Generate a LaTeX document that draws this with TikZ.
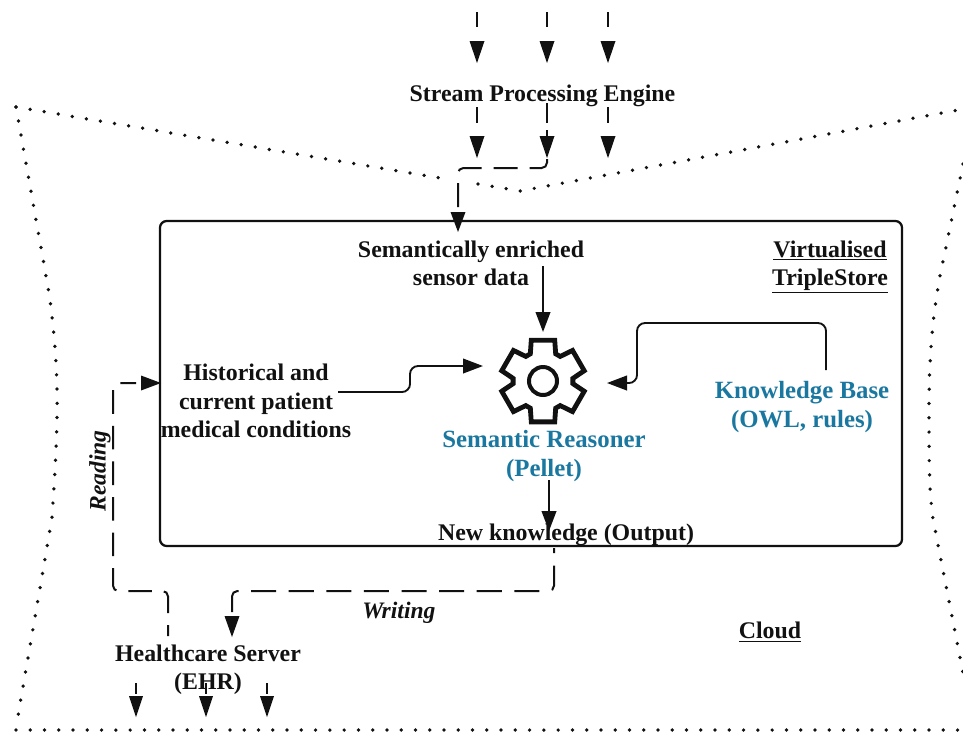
\documentclass[tikz,border=0pt]{standalone}
\usepackage{fontspec}
\setmainfont{Liberation Serif}
\usetikzlibrary{arrows.meta}
\definecolor{kbblue}{HTML}{1A78A0}
\definecolor{ink}{HTML}{111111}
\tikzset{
  lbl/.style={font=\fontsize{17.9}{21.2}\selectfont\bfseries,text=ink,align=center,inner sep=0pt},
  bluelbl/.style={lbl,text=kbblue,font=\fontsize{18.6}{22}\selectfont\bfseries},
  ital/.style={lbl,font=\fontsize{17.7}{21}\selectfont\bfseries\itshape},
  tipped/.style={-{Triangle[length=15pt,width=11pt]}},
  dashline/.style={ink,line width=1.5pt,dash pattern=on 18pt off 9pt,rounded corners=4pt},
  solidline/.style={ink,line width=1.4pt,rounded corners=6pt},
  dotsline/.style={ink,line width=2.8pt,line cap=round,dash pattern=on 0pt off 10.7pt},
  boxframe/.style={draw=ink,line width=1.7pt,rounded corners=5pt,inner sep=0pt,minimum width=556.5pt,minimum height=243.75pt},
}
\begin{document}
\begin{tikzpicture}[x=0.75pt,y=-0.75pt]
\useasboundingbox (0,0) rectangle (963,733);
% cloud
\draw[dotsline] (16,107) -- (452,180);
\draw[dotsline] (478,184) -- (520,191) -- (958,110);
\draw[dotsline] (16,107) -- (46,276) .. controls (55,325) and (58,380) .. (57,418) .. controls (56,465) and (53,500) .. (52,518) -- (18,716);
\draw[dotsline] (16,730) -- (963,730);
\draw[dotsline] (963,164) -- (940,276) .. controls (932,320) and (929,360) .. (929,410) .. controls (929,460) and (929,490) .. (933,519) -- (963,673);
% store
\node[boxframe] (store) at (531,383.5) {};
\node[lbl] (spe) at (542.5,96) {Stream Processing Engine};
\node[lbl] (sem) at (471,263.5) {Semantically enriched\\sensor data};
\node[lbl] (hist) at (256,401) {Historical and\\current patient\\medical conditions};
\node[bluelbl] (kb) at (802,407) {Knowledge Base\\(OWL, rules)};
\node[bluelbl] (sr) at (544,456) {Semantic Reasoner\\(Pellet)};
\node[lbl] (nk) at (566,535) {New knowledge (Output)};
\node[lbl] (hs) at (208,670) {Healthcare Server\\(EHR)};
\node[lbl] (vt) at (830,267) {\underline{Virtualised}\\\underline{TripleStore}};
\node[lbl] (cl) at (770,632) {\underline{Cloud}};
\node[ital] (wr) at (399,613) {Writing};
\node[ital,rotate=90] (rd) at (100,471) {Reading};
% gear
\coordinate (gear) at (543,381);
\draw[ink,line width=3.6pt,line join=miter,shift={(gear)}]
  (106:42.5)
  \foreach \a in {90,30,-30,-90,-150,-210} {
    -- ({\a+16}:42.5) -- ({\a-16}:42.5) -- ({\a-25}:30) -- ({\a-35}:30)
  } -- cycle;
\draw[ink,line width=3pt] (gear) circle (14);
% stream arrows
\foreach \x/\n in {477/a,547/b,608/c}{
  \draw[ink,line width=1.5pt] (\x,12) -- (\x,27);
  \fill[ink] (\x,63) -- (\x-7.5,41) -- (\x+7.5,41) -- cycle;
  \draw[ink,line width=1.5pt] (\x,107) -- (\x,123);
  \fill[ink] (\x,158) -- (\x-7.5,136) -- (\x+7.5,136) -- cycle;
}
\draw[ink,line width=1.5pt] (547,103) -- (547,123);
\draw[ink,line width=1.5pt] (547,130) -- (547,140);
\coordinate (tip1) at (458,232);
\draw[dashline] (458,207) -- (458,168) -- (547,168) -- (547,158);
\fill[ink] (tip1) -- (450.5,212) -- (465.5,212) -- cycle;
% solid
\coordinate (semout) at (543,266);
\coordinate (histout) at (338,392);
\coordinate (kbout) at (826,370);
\coordinate (srout) at (549,480);
\draw[solidline,tipped] (semout) -- (543,332);
\draw[solidline,tipped] (histout) -- (410,392) -- (410,366) -- (483,366);
\draw[solidline,tipped] (kbout) -- (826,323) -- (637,323) -- (637,383) -- (607,383);
\draw[solidline,tipped] (srout) -- (549,531);
% writing
\coordinate (w4) at (232,637);
\draw[dashline,dash pattern=on 18.8pt off 9.4pt] (232,612) -- (232,591) -- (554,591) -- (554,548);
\fill[ink] (w4) -- (224.5,616) -- (239.5,616) -- cycle;
% reading
\draw[dashline,dash pattern=on 17.7pt off 9pt,dash phase=9.45pt] (168,636) -- (168,591) -- (113,591) -- (113,383) -- (136,383);
\fill[ink] (161,383) -- (141,375.5) -- (141,390.5) -- cycle;
% bottom arrows
\foreach \x in {136,206,267}{
  \draw[ink,line width=1.5pt] (\x,683) -- (\x,694);
  \fill[ink] (\x,717) -- (\x-7,696) -- (\x+7,696) -- cycle;
}
\end{tikzpicture}
\end{document}
